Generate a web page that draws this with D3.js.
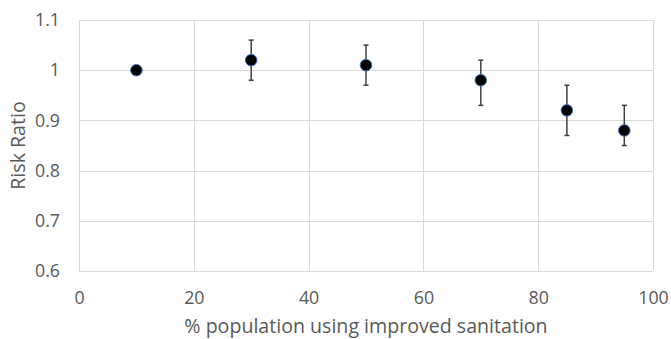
<!DOCTYPE html>
<html>
<head>
<meta charset="utf-8">
<script src="https://cdn.jsdelivr.net/npm/d3@7"></script>
<style>
  html, body { margin: 0; padding: 0; background: #fff; }
  svg { display: block; }
  text { font-family: "Open Sans", sans-serif; fill: #595959; }
</style>
</head>
<body>
<svg id="chart" width="671" height="339"></svg>
<script>
// Data
const xValues = [10, 30, 50, 70, 85, 95];
const riskRatio = [1.00, 1.02, 1.01, 0.98, 0.92, 0.88];
const ciLower = [null, 0.98, 0.97, 0.93, 0.87, 0.85];
const ciUpper = [null, 1.06, 1.05, 1.02, 0.97, 0.93];
const xTicks = [0, 20, 40, 60, 80, 100];
const yTicks = [0.6, 0.7, 0.8, 0.9, 1.0, 1.1];
const xTitle = "% population using improved sanitation";
const yTitle = "Risk Ratio";

const svg = d3.select("#chart");
const margin = { left: 79, right: 18, top: 20, bottom: 68 };
const W = 671, H = 339;

const x = d3.scaleLinear().domain([0, 100]).range([margin.left, W - margin.right]);
const y = d3.scaleLinear().domain([0.6, 1.1]).range([H - margin.bottom, margin.top]);

// gridlines
svg.append("g").selectAll("line.h").data(yTicks).join("line")
  .attr("x1", x(0)).attr("x2", x(100))
  .attr("y1", d => Math.round(y(d)) + 0.5).attr("y2", d => Math.round(y(d)) + 0.5)
  .attr("stroke", "#d9d9d9").attr("stroke-width", 1);
svg.append("g").selectAll("line.v").data(xTicks).join("line")
  .attr("y1", y(1.1)).attr("y2", y(0.6))
  .attr("x1", d => Math.round(x(d)) + 0.5).attr("x2", d => Math.round(x(d)) + 0.5)
  .attr("stroke", "#d9d9d9").attr("stroke-width", 1);

// axes (labels only)
const xAxis = d3.axisBottom(x).tickValues(xTicks).tickSize(0).tickPadding(20).tickFormat(d3.format("d"));
const gx = svg.append("g").attr("transform", `translate(0,${y(0.6)})`).call(xAxis);
gx.select(".domain").remove();
gx.selectAll("text").style("font-size", "17.8px").attr("fill", "#595959").style("font-family", "'Open Sans', sans-serif");

const yAxis = d3.axisLeft(y).tickValues(yTicks).tickSize(0).tickPadding(19).tickFormat(d => d === 1 ? "1" : d3.format(".1f")(d));
const gy = svg.append("g").attr("transform", `translate(${x(0)},0)`).call(yAxis);
gy.select(".domain").remove();
gy.selectAll("text").style("font-size", "17.8px").attr("fill", "#595959").style("font-family", "'Open Sans', sans-serif");

// titles
svg.append("text").attr("x", (x(0) + x(100)) / 2).attr("y", 333)
  .attr("text-anchor", "middle").style("font-size", "19.6px").text(xTitle);
svg.append("text").attr("transform", `translate(25,${(y(0.6) + y(1.1)) / 2}) rotate(-90)`)
  .attr("text-anchor", "middle").style("font-size", "19.6px").text(yTitle);

// error bars
const data = xValues.map((v, i) => ({ x: v, y: riskRatio[i], lo: ciLower[i], hi: ciUpper[i] }));
const eb = svg.append("g").selectAll("g").data(data.filter(d => d.lo !== null)).join("g");
eb.append("line").attr("x1", d => x(d.x)).attr("x2", d => x(d.x))
  .attr("y1", d => y(d.lo)).attr("y2", d => y(d.hi))
  .attr("stroke", "#404040").attr("stroke-width", 1.5);
eb.append("line").attr("x1", d => x(d.x) - 2.5).attr("x2", d => x(d.x) + 2.5)
  .attr("y1", d => y(d.lo)).attr("y2", d => y(d.lo))
  .attr("stroke", "#404040").attr("stroke-width", 1.5);
eb.append("line").attr("x1", d => x(d.x) - 2.5).attr("x2", d => x(d.x) + 2.5)
  .attr("y1", d => y(d.hi)).attr("y2", d => y(d.hi))
  .attr("stroke", "#404040").attr("stroke-width", 1.5);

// points
svg.append("g").selectAll("circle").data(data).join("circle")
  .attr("cx", d => x(d.x)).attr("cy", d => y(d.y)).attr("r", 5.8)
  .attr("fill", "#000").attr("stroke", "#4472c4").attr("stroke-width", 1);
</script>
</body>
</html>
